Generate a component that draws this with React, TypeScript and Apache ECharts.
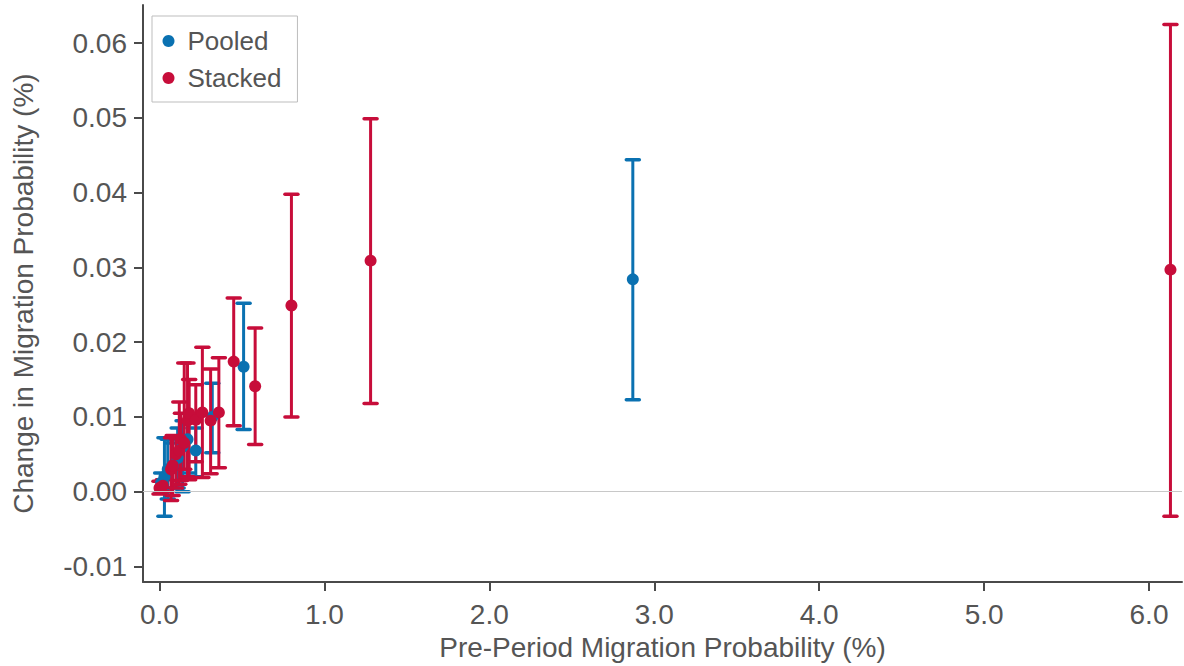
import React, { useEffect, useRef } from "react";
import * as echarts from "echarts";

// Pooled estimates
const pooledX = [0.01, 0.03, 0.05, 0.08, 0.11, 0.14, 0.17, 0.22, 0.32, 0.51, 2.87];
const pooledEst = [0.0012, 0.002, 0.003, 0.0035, 0.0045, 0.006, 0.007, 0.0055, 0.01, 0.0167, 0.0284];
const pooledLow = [-0.0002, -0.0033, -0.001, 0.0005, 0.0005, 0.0, 0.0025, 0.002, 0.0052, 0.0083, 0.0123];
const pooledHigh = [0.0025, 0.0072, 0.007, 0.0065, 0.0085, 0.0095, 0.0095, 0.0085, 0.0145, 0.0252, 0.0444];

// Stacked estimates
const stackedX = [0.0, 0.02, 0.07, 0.08, 0.1, 0.12, 0.13, 0.15, 0.17, 0.18, 0.22, 0.26, 0.31, 0.36, 0.45, 0.58, 0.8, 1.28, 6.13];
const stackedEst = [0.0005, 0.0008, 0.003, 0.0035, 0.005, 0.0055, 0.007, 0.0065, 0.0095, 0.0105, 0.0096, 0.0106, 0.0095, 0.0106, 0.0174, 0.0141, 0.0249, 0.0309, 0.0297];
const stackedLow = [-0.0003, 0.0, -0.0012, -0.0005, 0.0005, 0.001, 0.0015, 0.003, 0.002, 0.0016, 0.004, 0.0019, 0.0024, 0.0032, 0.0088, 0.0063, 0.01, 0.0118, -0.0033];
const stackedHigh = [0.0014, 0.0016, 0.0072, 0.0075, 0.0072, 0.012, 0.0105, 0.0172, 0.0172, 0.015, 0.0143, 0.0193, 0.0164, 0.0179, 0.0259, 0.0219, 0.0398, 0.0499, 0.0625];

const xTicks = [0, 1, 2, 3, 4, 5, 6];
const yTicks = [-0.01, 0, 0.01, 0.02, 0.03, 0.04, 0.05, 0.06];

const BLUE = "#0A71B1";
const RED = "#C70D3A";
const TEXT = "#555555";
const AXIS = "#4a4a4a";
const FONT = "Liberation Sans, Arial, sans-serif";

function rows(x: number[], e: number[], lo: number[], hi: number[]) {
  return x.map((v, i) => [v, e[i], lo[i], hi[i]]);
}

function errorSeries(name: string, color: string, data: number[][]) {
  return {
    name,
    type: "custom",
    data,
    encode: { x: 0, y: [1, 2, 3] },
    itemStyle: { color },
    renderItem: (params: any, api: any) => {
      const x = api.value(0);
      const top = api.coord([x, api.value(3)]);
      const bot = api.coord([x, api.value(2)]);
      const hw = 6.5;
      return {
        type: "group",
        children: [
          { type: "line", shape: { x1: top[0], y1: top[1], x2: bot[0], y2: bot[1] }, style: { stroke: color, lineWidth: 3 } },
          { type: "line", shape: { x1: top[0] - hw, y1: top[1], x2: top[0] + hw, y2: top[1] }, style: { stroke: color, lineWidth: 3.5, lineCap: "round" } },
          { type: "line", shape: { x1: bot[0] - hw, y1: bot[1], x2: bot[0] + hw, y2: bot[1] }, style: { stroke: color, lineWidth: 3.5, lineCap: "round" } },
        ],
      };
    },
  };
}

function pointSeries(name: string, color: string, data: number[][]) {
  return {
    name,
    type: "scatter",
    data: data.map((r) => [r[0], r[1]]),
    symbol: "circle",
    symbolSize: 12,
    itemStyle: { color, opacity: 1 },
  };
}

export default function App() {
  const ref = useRef<HTMLDivElement>(null);
  useEffect(() => {
    if (!ref.current) return;
    const chart = echarts.init(ref.current, null, { renderer: "svg" });
    const pooled = rows(pooledX, pooledEst, pooledLow, pooledHigh);
    const stacked = rows(stackedX, stackedEst, stackedLow, stackedHigh);
    chart.setOption({
      animation: false,
      backgroundColor: "#ffffff",
      textStyle: { fontFamily: FONT },
      grid: { left: 143, right: 2, top: 5, bottom: 82, containLabel: false },
      legend: {
        data: [
          { name: "Pooled", icon: "circle", itemStyle: { color: BLUE } },
          { name: "Stacked", icon: "circle", itemStyle: { color: RED } },
        ],
        orient: "vertical",
        left: 152,
        top: 16,
        itemWidth: 28,
        itemHeight: 12,
        itemGap: 11,
        padding: [12, 16, 11, 10.5],
        borderColor: "#bdbdbd",
        borderWidth: 1,
        backgroundColor: "#ffffff",
        textStyle: { color: TEXT, fontSize: 26, fontFamily: FONT, lineHeight: 26 },
      },
      xAxis: {
        type: "value",
        min: -0.1,
        max: 6.2,
        name: "Pre-Period Migration Probability (%)",
        nameLocation: "middle",
        nameGap: 47,
        nameTextStyle: { color: TEXT, fontSize: 28, fontFamily: FONT },
        axisLine: { show: true, onZero: false, lineStyle: { color: AXIS, width: 2 } },
        axisTick: { show: true, length: 9, customValues: xTicks, lineStyle: { color: AXIS, width: 2 } },
        axisLabel: {
          customValues: xTicks,
          margin: 18,
          color: TEXT,
          fontSize: 28,
          fontFamily: FONT,
          formatter: (v: number) => v.toFixed(1),
        },
        splitLine: { show: false },
      },
      yAxis: {
        type: "value",
        min: -0.0121,
        max: 0.0651,
        name: "Change in Migration Probability (%)",
        nameLocation: "middle",
        nameGap: 106,
        nameTextStyle: { color: TEXT, fontSize: 28, fontFamily: FONT },
        axisLine: { show: true, onZero: false, lineStyle: { color: AXIS, width: 2 } },
        axisTick: { show: true, length: 9, customValues: yTicks, lineStyle: { color: AXIS, width: 2 } },
        axisLabel: {
          customValues: yTicks,
          margin: 16,
          color: TEXT,
          fontSize: 28,
          fontFamily: FONT,
          formatter: (v: number) => v.toFixed(2),
        },
        splitLine: { show: false },
      },
      series: [
        {
          name: "zero",
          type: "line",
          data: [],
          markLine: {
            silent: true,
            symbol: "none",
            label: { show: false },
            lineStyle: { color: "#c8c8c8", width: 1.2, type: "solid" },
            data: [{ yAxis: 0 }],
          },
        },
        errorSeries("Pooled", BLUE, pooled),
        pointSeries("Pooled", BLUE, pooled),
        errorSeries("Stacked", RED, stacked),
        pointSeries("Stacked", RED, stacked),
      ],
    });
    return () => chart.dispose();
  }, []);
  return <div ref={ref} style={{ width: 1184, height: 666, position: "absolute", left: 0, top: 0 }} />;
}
